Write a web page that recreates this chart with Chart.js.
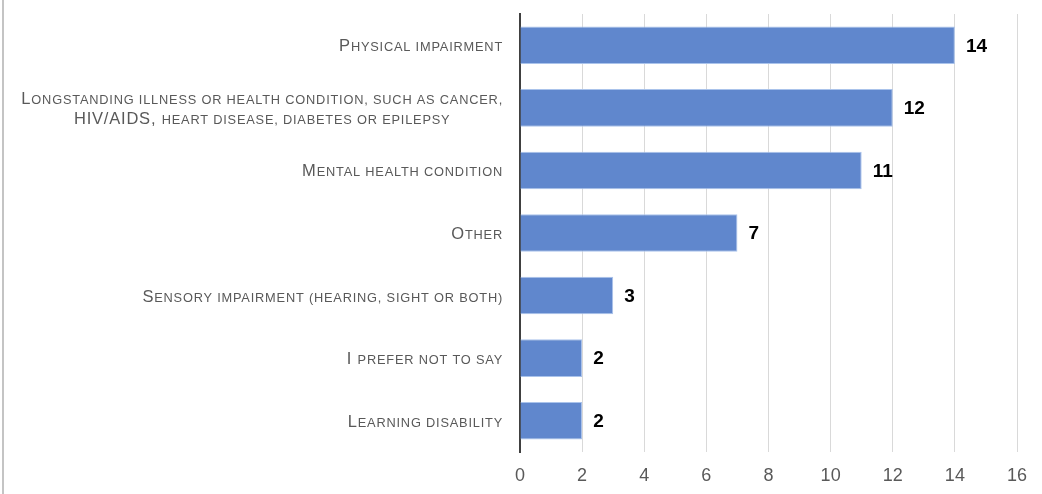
<!DOCTYPE html>
<html>
<head>
<meta charset="utf-8">
<script src="https://cdn.jsdelivr.net/npm/chart.js@4"></script>
<style>
    body { margin: 0; background: #fff; }
    .frame { position: relative; width: 1042px; height: 494px; }
    .frame:before { content: ""; position: absolute; left: 2px; top: 0; bottom: 0; border-left: 2px solid #c4c4c4; }
</style>
</head>
<body>
<div class="frame"><canvas id="chart" width="1042" height="494"></canvas></div>
<script>
    "use strict";

    // Data
    var categories = [
        ["Physical impairment"],
        ["Longstanding illness or health condition, such as cancer,", "HIV/AIDS, heart disease, diabetes or epilepsy"],
        ["Mental health condition"],
        ["Other"],
        ["Sensory impairment (hearing, sight or both)"],
        ["I prefer not to say"],
        ["Learning disability"]
    ];
    var counts = [14, 12, 11, 7, 3, 2, 2];
    var xTicks = [0, 2, 4, 6, 8, 10, 12, 14, 16];

    var labelColor = "#595959";
    var family = "'Liberation Sans', Arial, sans-serif";
    var capSize = 16.5;
    var smallSize = 12.8;

    // split a string into runs of full caps and small caps
    function runs(text) {
        var out = [];
        for (var i = 0; i < text.length; i++) {
            var ch = text[i];
            var last = out[out.length - 1];
            var small;
            if (ch !== ch.toUpperCase()) small = true;
            else if (ch !== ch.toLowerCase()) small = false;
            else small = last ? last.small : false;
            if (last && last.small === small) last.text += ch.toUpperCase();
            else out.push({ text: ch.toUpperCase(), small: small });
        }
        return out;
    }

    function setFont(ctx, small) {
        ctx.font = (small ? smallSize : capSize) + "px " + family;
    }

    function runWidth(ctx, r) {
        setFont(ctx, r.small);
        return ctx.measureText(r.text).width;
    }

    // Category labels (right aligned, multi-line ones centred on each other)
    var categoryLabels = {
        id: "categoryLabels",
        afterDraw: function (chart) {
            var ctx = chart.ctx;
            var scale = chart.scales.y;
            var right = chart.chartArea.left - 17;
            ctx.save();
            ctx.fillStyle = labelColor;
            ctx.textBaseline = "alphabetic";
            ctx.textAlign = "left";
            if ("letterSpacing" in ctx) ctx.letterSpacing = "0.8px";
            categories.forEach(function (lines, i) {
                var y = scale.getPixelForTick(i);
                var parts = lines.map(runs);
                var widths = parts.map(function (p) {
                    return p.reduce(function (s, r) { return s + runWidth(ctx, r); }, 0);
                });
                var w = Math.max.apply(null, widths);
                var cx = right - w / 2;
                var lh = 20;
                var y0 = y - (lines.length - 1) * lh / 2 + 6;
                parts.forEach(function (p, j) {
                    var x = cx - widths[j] / 2;
                    p.forEach(function (r) {
                        setFont(ctx, r.small);
                        ctx.fillText(r.text, x, y0 + j * lh);
                        x += runWidth(ctx, r);
                    });
                });
            });
            ctx.restore();
        }
    };

    // Value labels at bar ends
    var valueLabels = {
        id: "valueLabels",
        afterDatasetsDraw: function (chart) {
            var ctx = chart.ctx;
            var meta = chart.getDatasetMeta(0);
            ctx.save();
            ctx.font = "bold 19px " + family;
            ctx.fillStyle = "#000";
            ctx.textAlign = "left";
            ctx.textBaseline = "middle";
            meta.data.forEach(function (bar, i) {
                ctx.fillText(String(counts[i]), bar.x + 11, bar.y + 1);
            });
            ctx.restore();
        }
    };

    var ctx = document.getElementById("chart").getContext("2d");
    var myChart = new Chart(ctx, {
        type: "bar",
        data: {
            labels: categories.map(function (c) { return c.join(" "); }),
            datasets: [{
                data: counts,
                backgroundColor: "rgb(96, 135, 205)",
                borderColor: "rgb(170, 195, 235)",
                borderWidth: 1,
                barPercentage: 0.6,
                categoryPercentage: 1
            }]
        },
        options: {
            indexAxis: "y",
            responsive: false,
            animation: false,
            layout: { padding: { top: 14, right: 25, left: 0, bottom: 0 } },
            plugins: {
                legend: { display: false },
                tooltip: { enabled: false }
            },
            scales: {
                x: {
                    min: 0,
                    max: 16,
                    afterBuildTicks: function (scale) {
                        scale.ticks = xTicks.map(function (v) { return { value: v }; });
                    },
                    afterFit: function (scale) { scale.height = 42; },
                    grid: { color: "#d9d9d9", lineWidth: 1, drawTicks: false },
                    border: { display: false },
                    ticks: {
                        color: labelColor,
                        padding: 13,
                        font: { family: family, size: 18 }
                    }
                },
                y: {
                    afterFit: function (scale) { scale.width = 520; },
                    grid: { display: false },
                    border: { color: "#404040", width: 2 },
                    ticks: { display: false }
                }
            }
        },
        plugins: [categoryLabels, valueLabels]
    });
</script>
</body>
</html>
